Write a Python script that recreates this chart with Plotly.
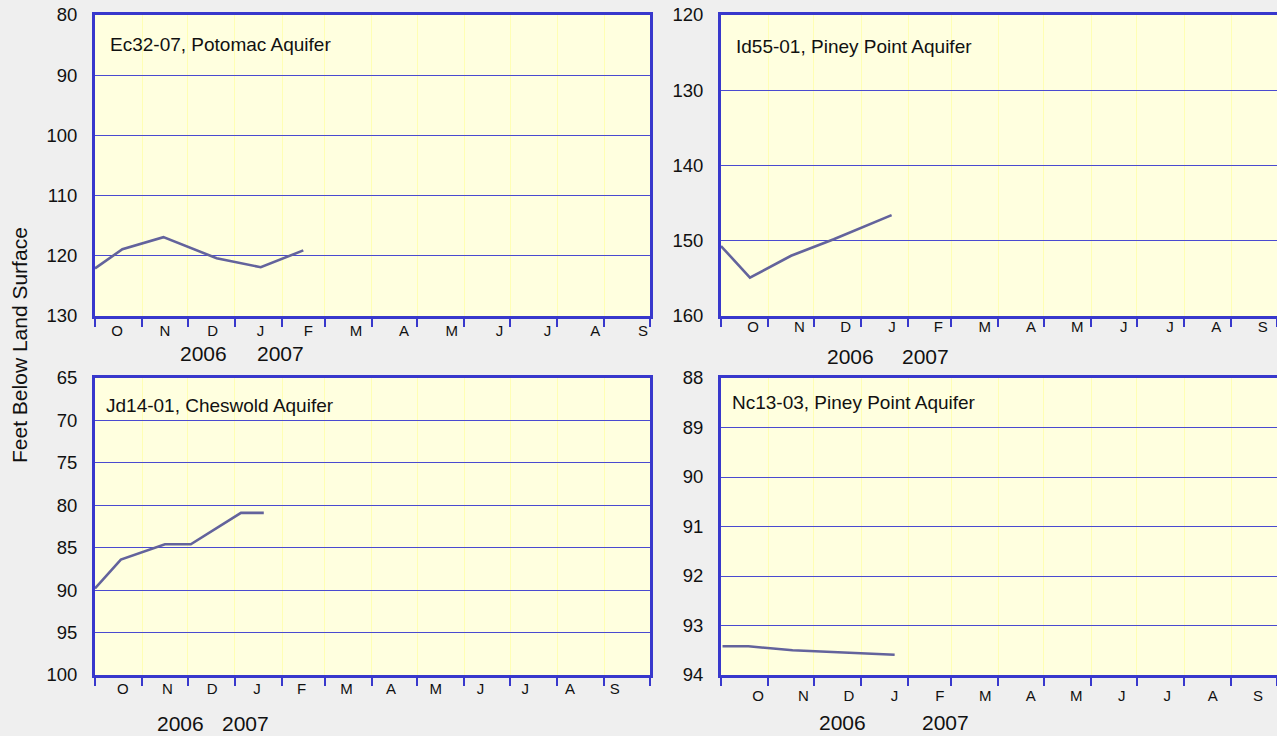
import plotly.graph_objects as go
import pandas as pd

# ---------------- data ----------------
month_labels = ['O', 'N', 'D', 'J', 'F', 'M', 'A', 'M', 'J', 'J', 'A', 'S']

ec_dates = ['2006-10-01', '2006-10-19', '2006-11-15', '2006-12-20', '2007-01-18', '2007-02-15']
ec_vals = [122.1, 118.9, 116.9, 120.4, 121.9, 119.1]

id_dates = ['2006-10-01', '2006-10-20', '2006-11-16', '2006-12-14', '2007-01-21']
id_vals = [150.7, 154.9, 152.0, 149.8, 146.6]

jd_dates = ['2006-10-01', '2006-10-18', '2006-11-16', '2006-12-03', '2007-01-05', '2007-01-20']
jd_vals = [89.8, 86.4, 84.6, 84.6, 80.9, 80.9]

nc_dates = ['2006-10-02', '2006-10-19', '2006-11-17', '2006-12-24', '2007-01-23']
nc_vals = [93.42, 93.42, 93.50, 93.55, 93.59]

titles = ['Ec32-07, Potomac Aquifer', 'Id55-01, Piney Point Aquifer',
          'Jd14-01, Cheswold Aquifer', 'Nc13-03, Piney Point Aquifer']
year_labels = ['2006', '2007']

# ---------------- layout helpers ----------------
W, H = 1277, 736
FONT = 'Arial, Liberation Sans, sans-serif'
BORDER = '#3838cc'
GRID = '#4a4ad0'
VGRID = '#ffffb4'
LINE = '#63639c'
PLOTBG = '#ffffdf'
PAPER = '#efefef'

x_start = pd.Timestamp('2006-10-01')
x_end = pd.Timestamp('2007-10-01')
month_starts = [d.strftime('%Y-%m-%d') for d in pd.date_range(x_start, x_end, freq='MS')]

def px_x(p):
    return p / W

def px_y(p):
    return 1 - p / H

panels = [
    dict(d=ec_dates, v=ec_vals, yr=[130, 80], dt=10, xd=(95, 650), yd=(15, 316),
         lo=0.475, ls=1.034, st=-1, yx=(203, 280), yy=353, tp=(108, 45)),
    dict(d=id_dates, v=id_vals, yr=[160, 120], dt=10, xd=(721, 1277), yd=(15, 316),
         lo=0.69, ls=1.0, st=-5, yx=(850, 925), yy=356, tp=(734, 46)),
    dict(d=jd_dates, v=jd_vals, yr=[100, 65], dt=5, xd=(95, 650), yd=(378, 675),
         lo=0.6, ls=0.967, st=-2, yx=(180, 245), yy=723, tp=(104, 405)),
    dict(d=nc_dates, v=nc_vals, yr=[94, 88], dt=1, xd=(721, 1277), yd=(378, 675),
         lo=0.8, ls=0.981, st=5, yx=(843, 945), yy=722, tp=(730, 402)),
]

fig = go.Figure()
layout = dict(
    width=W, height=H,
    margin=dict(l=0, r=0, t=0, b=0, pad=0),
    paper_bgcolor=PAPER,
    plot_bgcolor=PLOTBG,
    showlegend=False,
    font=dict(family=FONT, color='#111111'),
    annotations=[],
)

for i, p in enumerate(panels):
    n = i + 1
    xa = 'x' if n == 1 else f'x{n}'
    ya = 'y' if n == 1 else f'y{n}'
    fig.add_trace(go.Scatter(x=p['d'], y=p['v'], mode='lines', xaxis=xa, yaxis=ya,
                             line=dict(color=LINE, width=2.6), hoverinfo='skip'))
    lab_dates = [(x_start + pd.Timedelta(days=(p['lo'] + k * p['ls']) * 30.42)).strftime('%Y-%m-%d %H:%M')
                 for k in range(len(month_labels))]
    layout[f'xaxis{"" if n == 1 else n}'] = dict(
        type='date', domain=[px_x(p['xd'][0]), px_x(p['xd'][1])], anchor=ya,
        range=[x_start.strftime('%Y-%m-%d'), x_end.strftime('%Y-%m-%d')],
        tickmode='array', tickvals=lab_dates, ticktext=month_labels,
        ticks='', ticklabelstandoff=p['st'], automargin=False,
        tickfont=dict(size=15, family=FONT, color='#111111'),
        showgrid=False, zeroline=False,
        showline=True, linecolor=BORDER, linewidth=3, mirror=True,
        minor=dict(tickmode='array', tickvals=month_starts, ticks='outside', ticklen=8,
                   tickcolor=BORDER, tickwidth=2, showgrid=True, gridcolor=VGRID, gridwidth=1),
        fixedrange=True,
    )
    layout[f'yaxis{"" if n == 1 else n}'] = dict(
        domain=[px_y(p['yd'][1]), px_y(p['yd'][0])], anchor=xa,
        range=p['yr'], dtick=p['dt'], tick0=p['yr'][1],
        ticks='', ticklabelstandoff=11, automargin=False,
        tickfont=dict(size=18.5, family=FONT, color='#111111'),
        showgrid=True, gridcolor=GRID, gridwidth=1, zeroline=False,
        showline=True, linecolor=BORDER, linewidth=3, mirror=True,
        fixedrange=True,
    )
    layout['annotations'].append(dict(
        text=titles[i], xref='paper', yref='paper', x=px_x(p['tp'][0]), y=px_y(p['tp'][1]),
        xanchor='left', yanchor='middle', showarrow=False,
        font=dict(size=19, family=FONT, color='#111111')))
    for yl, yxp in zip(year_labels, p['yx']):
        layout['annotations'].append(dict(
            text=yl, xref='paper', yref='paper', x=px_x(yxp), y=px_y(p['yy']),
            xanchor='center', yanchor='middle', showarrow=False,
            font=dict(size=21, family=FONT, color='#111111')))

layout['annotations'].append(dict(
    text='Feet Below Land Surface', xref='paper', yref='paper', x=px_x(19), y=px_y(345),
    xanchor='center', yanchor='middle', textangle=-90, showarrow=False,
    font=dict(size=21, family=FONT, color='#111111')))

fig.update_layout(**layout)
fig.write_html('out.html', config={'displayModeBar': False},
               post_script="document.body.style.margin='0px';document.body.style.overflow='hidden';")
